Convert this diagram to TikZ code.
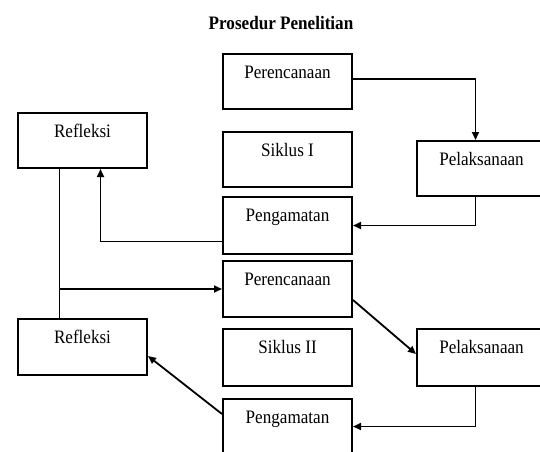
\documentclass[tikz,border=0pt]{standalone}
\usepackage{fontspec}
\setmainfont[FakeStretch=0.9]{Liberation Serif}
\usetikzlibrary{arrows.meta}
\begin{document}
\begin{tikzpicture}[x=1pt,y=-1pt,
  box/.style={draw, line width=2pt, minimum width=129pt, inner xsep=0pt, inner ysep=0pt,
    text height=24pt, anchor=north west, font=\fontsize{19}{22}\selectfont},
  conn/.style={line width=1.8pt},
  arr/.style={conn, -{Triangle[length=8pt,width=7pt]}}]
\useasboundingbox (0,0) rectangle (540,451);
\clip (0,0) rectangle (540,451);
\node[font=\bfseries\fontsize{19}{22}\selectfont] (title) at (281,23) {Prosedur Penelitian};
\node[box, text depth=31pt] (p1) at (222,53) {Perencanaan};
\node[box, text depth=31pt] (s1) at (222,131) {Siklus I};
\node[box, text depth=31pt] (l1) at (416,140) {Pelaksanaan};
\node[box, text depth=33pt] (g1) at (222,196) {Pengamatan};
\node[box, text depth=31pt] (r1) at (17,112) {Refleksi};
\node[box, text depth=32pt] (p2) at (222,260) {Perencanaan};
\node[box, text depth=33pt] (s2) at (222,328) {Siklus II};
\node[box, text depth=33pt] (l2) at (416,328) {Pelaksanaan};
\node[box, text depth=32pt] (r2) at (17,318) {Refleksi};
\node[box, text depth=31pt] (g2) at (222,398) {Pengamatan};
% cycle I
\draw[arr] ([yshift=2.5pt]p1.east) -| ([xshift=-6pt]l1.north);
\draw[arr] ([xshift=-6pt]l1.south) |- (g1.east);
\draw[arr] ([yshift=-16pt]g1.west) -| ([xshift=18pt]r1.south);
\draw[conn] ([xshift=-23pt]r1.south) -- ([xshift=-23pt]r2.north);
\coordinate (j) at ([xshift=-23pt]r1.south |- p2.west);
\draw[arr] (j) -- (p2.west);
% cycle II
\draw[arr] ([yshift=-11pt]p2.east) -- ([yshift=3.5pt]l2.west);
\draw[arr] ([xshift=-6pt]l2.south) |- (g2.east);
\draw[arr] ([yshift=12.5pt]g2.west) -- ([yshift=-9pt]r2.east);
\end{tikzpicture}
\end{document}
